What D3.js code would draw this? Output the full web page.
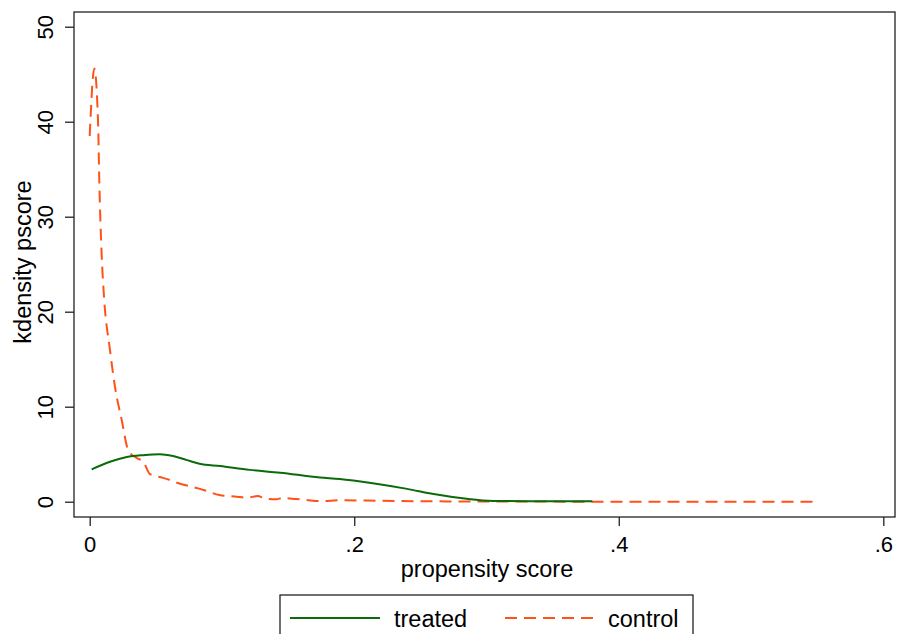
<!DOCTYPE html>
<html><head><meta charset="utf-8">
<script src="https://cdn.jsdelivr.net/npm/d3@7/dist/d3.min.js"></script>
<style>html,body{margin:0;padding:0;background:#fff;}svg{display:block;font-family:"Liberation Sans",Arial,Helvetica,sans-serif;}</style>
</head><body>
<svg id="c" width="897" height="634"></svg>
<script>
const treatedX = [0.0015,0.0153,0.028,0.0405,0.053,0.063,0.073,0.083,0.0986,0.121,0.144,0.174,0.189,0.214,0.240,0.260,0.285,0.305,0.333,0.380];
const treatedY = [3.4,4.2,4.7,4.9,5.0,4.8,4.4,4.0,3.75,3.35,3.05,2.55,2.4,1.95,1.35,0.8,0.3,0.08,0.05,0.05];
const controlX = [0.000,0.0035,0.0063,0.0073,0.0091,0.0108,0.0153,0.0191,0.0242,0.0292,0.0355,0.0405,0.0456,0.053,0.058,0.066,0.082,0.088,0.098,0.111,0.119,0.127,0.132,0.141,0.146,0.156,0.164,0.174,0.19,0.21,0.25,0.30,0.35,0.40,0.55];
const controlY = [38.5,45.6,40,33.5,25.8,21.6,16,12.1,8.6,5.4,4.6,4.2,2.9,2.6,2.4,2.0,1.4,1.15,0.7,0.53,0.42,0.6,0.36,0.25,0.39,0.28,0.18,0.07,0.15,0.12,0.05,0.02,0.01,0.0,0.0];
const xTicks = [0,0.2,0.4,0.6];
const xTickLabels = ["0",".2",".4",".6"];
const yTicks = [0,10,20,30,40,50];
const seriesNames = ["treated","control"];

const svg = d3.select("#c");
const L=74, T=12, R=895, B=517;
const FONT = "Liberation Sans,Arial,sans-serif";
const x = d3.scaleLinear().domain([0,0.6]).range([89.7,883.3]);
const y = d3.scaleLinear().domain([0,50]).range([501.7,26.7]);

svg.append("rect").attr("x",L).attr("y",T).attr("width",R-L).attr("height",B-T)
  .attr("fill","none").attr("stroke","#222").attr("stroke-width",1.3);

const xa = svg.append("g").attr("transform",`translate(0,${B})`)
  .call(d3.axisBottom(x).tickValues(xTicks).tickFormat((d,i)=>xTickLabels[i]).tickSize(9).tickPadding(10));
xa.select(".domain").remove();
xa.selectAll("line").attr("stroke","#222").attr("stroke-width",1.3);
xa.selectAll("text").attr("font-size",22).attr("fill","#000").attr("font-family",FONT);

const ya = svg.append("g").attr("transform",`translate(${L},0)`)
  .call(d3.axisLeft(y).tickValues(yTicks).tickSize(9).tickPadding(0));
ya.select(".domain").remove();
ya.selectAll("line").attr("stroke","#222").attr("stroke-width",1.3);
ya.selectAll("text").attr("font-size",22).attr("fill","#000").attr("font-family",FONT)
  .attr("text-anchor","middle").attr("x",0)
  .attr("transform","translate(-29,0) rotate(-90)").attr("dy","0.35em");

svg.append("text").attr("x",487).attr("y",577).attr("text-anchor","middle")
  .attr("font-size",23.5).text("propensity score");
svg.append("text").attr("transform",`translate(31,262) rotate(-90)`).attr("text-anchor","middle")
  .attr("font-size",23.5).text("kdensity pscore");

const line = d3.line().x(d=>x(d[0])).y(d=>y(d[1])).curve(d3.curveMonotoneX);
const tdata = treatedX.map((v,i)=>[v,treatedY[i]]);
const cdata = controlX.map((v,i)=>[v,controlY[i]]);
svg.append("path").datum(cdata).attr("d",line).attr("fill","none")
  .attr("stroke","#ff5219").attr("stroke-width",2).attr("stroke-dasharray","12,7");
svg.append("path").datum(tdata).attr("d",line).attr("fill","none")
  .attr("stroke","#0b6b0b").attr("stroke-width",2);

// legend
const lg = svg.append("g");
lg.append("rect").attr("x",280).attr("y",595).attr("width",413).attr("height",60)
  .attr("fill","#fff").attr("stroke","#222").attr("stroke-width",1.3);
lg.append("line").attr("x1",290).attr("x2",380).attr("y1",618).attr("y2",618)
  .attr("stroke","#0b6b0b").attr("stroke-width",2);
lg.append("text").attr("x",394).attr("y",627).attr("font-size",23.5).text(seriesNames[0]);
lg.append("line").attr("x1",505).attr("x2",593).attr("y1",618).attr("y2",618)
  .attr("stroke","#ff5219").attr("stroke-width",2).attr("stroke-dasharray","12,7");
lg.append("text").attr("x",608).attr("y",627).attr("font-size",23.5).text(seriesNames[1]);
</script>
</body></html>
